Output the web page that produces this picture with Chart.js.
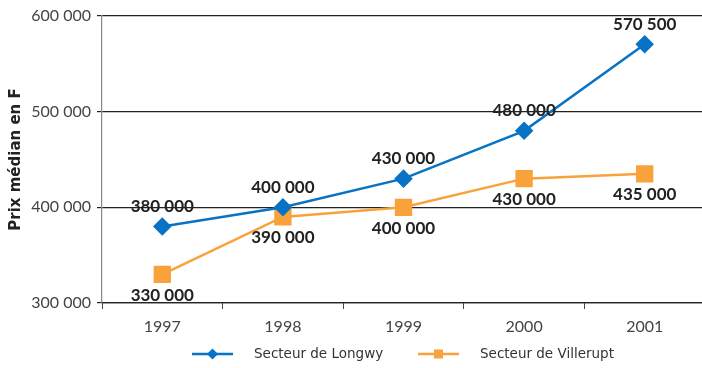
<!DOCTYPE html>
<html>
<head>
<meta charset="utf-8">
<script src="https://cdn.jsdelivr.net/npm/chart.js@4"></script>
<style>
  html, body { margin: 0; padding: 0; background: #fff; overflow: hidden; }
  #wrap { width: 718px; height: 368px; }
</style>
</head>
<body>
<div id="wrap"><canvas id="chart" width="718" height="368"></canvas></div>
<script>
const years = ['1997', '1998', '1999', '2000', '2001'];
const longwy = [380000, 400000, 430000, 480000, 570500];
const villerupt = [330000, 390000, 400000, 430000, 435000];
const seriesNames = ['Secteur de Longwy', 'Secteur de Villerupt'];
const yTicks = [300000, 400000, 500000, 600000];

const BLUE = '#0873c4';
const ORANGE = '#f9a23b';
const FONT = 'Lato, "Noto Sans", sans-serif';
const WIDE = '"DejaVu Sans", sans-serif';

function fmt(v) {
  return String(v).replace(/\B(?=(\d{3})+(?!\d))/g, ' ');
}

// value labels: Longwy above, Villerupt below
const valueLabels = {
  id: 'valueLabels',
  afterDatasetsDraw(chart) {
    const ctx = chart.ctx;
    ctx.save();
    ctx.font = 'bold 17px ' + FONT;
    ctx.fillStyle = '#222';
    ctx.textAlign = 'center';
    ctx.textBaseline = 'middle';
    chart.data.datasets.forEach(function (ds, i) {
      const meta = chart.getDatasetMeta(i);
      meta.data.forEach(function (pt, j) {
        const dy = i === 0 ? -20 : 21;
        ctx.fillText(fmt(ds.data[j]), pt.x, pt.y + dy);
      });
    });
    ctx.restore();
  }
};

// legend at the bottom: line + marker + text
const bottomLegend = {
  id: 'bottomLegend',
  afterDraw(chart) {
    const ctx = chart.ctx;
    const y = 354;
    const items = [
      { x: 192, color: BLUE, shape: 'diamond', text: seriesNames[0] },
      { x: 418, color: ORANGE, shape: 'square', text: seriesNames[1] }
    ];
    ctx.save();
    items.forEach(function (it) {
      ctx.strokeStyle = it.color;
      ctx.fillStyle = it.color;
      ctx.lineWidth = 2.5;
      ctx.beginPath();
      ctx.moveTo(it.x, y);
      ctx.lineTo(it.x + 41, y);
      ctx.stroke();
      const cx = it.x + 20.5;
      ctx.beginPath();
      if (it.shape === 'diamond') {
        ctx.moveTo(cx, y - 5.5);
        ctx.lineTo(cx + 5.5, y);
        ctx.lineTo(cx, y + 5.5);
        ctx.lineTo(cx - 5.5, y);
        ctx.closePath();
        ctx.fill();
      } else {
        ctx.fillRect(cx - 4.5, y - 4.5, 9, 9);
      }
      ctx.fillStyle = '#333';
      ctx.font = '13.5px ' + WIDE;
      ctx.textAlign = 'left';
      ctx.textBaseline = 'middle';
      ctx.fillText(it.text, it.x + 62, y);
    });
    ctx.restore();
  }
};

new Chart(document.getElementById('chart'), {
  type: 'line',
  data: {
    labels: years,
    datasets: [
      {
        label: seriesNames[0],
        data: longwy,
        borderColor: BLUE,
        backgroundColor: BLUE,
        borderWidth: 2.5,
        pointStyle: 'rectRot',
        pointRadius: 7.5,
        pointHoverRadius: 7.5,
        tension: 0
      },
      {
        label: seriesNames[1],
        data: villerupt,
        borderColor: ORANGE,
        backgroundColor: ORANGE,
        borderWidth: 2.5,
        pointStyle: 'rect',
        pointRadius: 10.5,
        pointHoverRadius: 10.5,
        tension: 0
      }
    ]
  },
  options: {
    responsive: false,
    animation: false,
    layout: { padding: { top: 16, right: 0, bottom: 0, left: 0 } },
    plugins: {
      legend: { display: false },
      tooltip: { enabled: false }
    },
    scales: {
      x: {
        offset: true,
        afterFit: function (scale) { scale.height = 65; },
        grid: {
          display: true,
          offset: true,
          drawOnChartArea: false,
          drawTicks: true,
          tickLength: 6,
          color: '#444'
        },
        border: { display: true, color: '#222', width: 1.2 },
        ticks: {
          color: '#444',
          font: { family: FONT, size: 16 },
          padding: 8,
          maxRotation: 0
        }
      },
      y: {
        min: 300000,
        max: 600000,
        afterFit: function (scale) { scale.width = 102; },
        afterBuildTicks: function (scale) {
          scale.ticks = yTicks.map(function (v) { return { value: v }; });
        },
        grid: {
          color: '#222',
          lineWidth: 1.2,
          tickLength: 5
        },
        border: { display: true, color: '#888', width: 1.2 },
        ticks: {
          color: '#444',
          font: { family: FONT, size: 16 },
          padding: 6,
          callback: function (v) { return fmt(v); }
        },
        title: {
          display: true,
          text: 'Prix médian en F',
          color: '#222',
          font: { family: WIDE, size: 15, weight: 'bold' },
          padding: { top: 7, bottom: 2 }
        }
      }
    }
  },
  plugins: [valueLabels, bottomLegend]
});
</script>
</body>
</html>
